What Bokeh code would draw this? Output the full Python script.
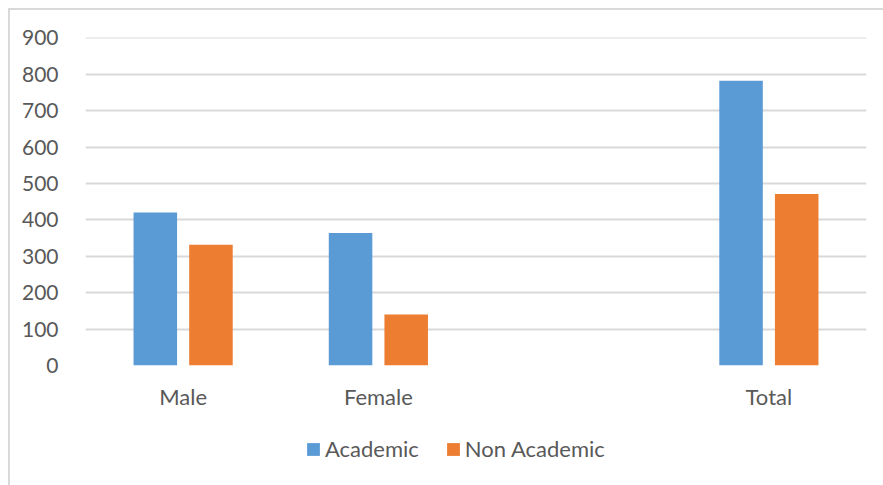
from bokeh.plotting import figure
from bokeh.models import ColumnDataSource, FactorRange, Range1d, Legend, LegendItem, SingleIntervalTicker
from bokeh.layouts import column
from bokeh.transform import dodge
from bokeh.embed import file_html
from bokeh.resources import INLINE

factors = ["Male", "Female", " ", "Total"]
categories = ["Male", "Female", "Total"]
academic = [420, 364, 782]
non_academic = [332, 140, 471]
series_names = ["Academic", "Non Academic"]
colors = ["#5B9BD5", "#ED7D31"]

font = "Lato"
tc = "#595959"

src = ColumnDataSource(dict(cat=categories, a=academic, n=non_academic))

p = figure(width=873, height=410, x_range=FactorRange(factors=factors),
           y_range=Range1d(0, 901), output_backend="svg", toolbar_location=None,
           min_border_left=75, min_border_top=27, min_border_right=17, min_border_bottom=55)

p.vbar(x=dodge("cat", -0.1425, range=p.x_range), top="a", width=0.223, source=src,
       fill_color=colors[0], line_color=None)
p.vbar(x=dodge("cat", 0.1425, range=p.x_range), top="n", width=0.223, source=src,
       fill_color=colors[1], line_color=None)

p.outline_line_color = None
p.background_fill_color = "white"
p.border_fill_color = "white"
p.xgrid.grid_line_color = None
p.ygrid.grid_line_color = "#d9d9d9"
p.ygrid.grid_line_width = 2
p.yaxis.ticker = SingleIntervalTicker(interval=100)
for ax in (p.xaxis[0], p.yaxis[0]):
    ax.axis_line_color = None
    ax.major_tick_line_color = None
    ax.minor_tick_line_color = None
    ax.major_tick_out = 0
    ax.major_tick_in = 0
    ax.major_label_text_font = font
    ax.major_label_text_color = tc
p.yaxis.major_label_text_font_size = "21px"
p.yaxis.major_label_standoff = 23
p.xaxis.major_label_text_font_size = "22px"
p.xaxis.major_label_standoff = 17

# legend strip (a second figure holding only the legend)
leg = figure(width=873, height=65, x_range=(0, 1), y_range=(0, 1),
             output_backend="svg", toolbar_location=None,
             x_axis_type=None, y_axis_type=None, min_border=0)
leg.outline_line_color = None
leg.xgrid.grid_line_color = None
leg.ygrid.grid_line_color = None
proxy = ColumnDataSource(dict(x=[-5], top=[0]))  # zero-height, outside the visible range
l1 = leg.vbar(x="x", top="top", width=0.1, source=proxy, fill_color=colors[0], line_color=None)
l2 = leg.vbar(x="x", top="top", width=0.1, source=proxy, fill_color=colors[1], line_color=None)
legend = Legend(items=[LegendItem(label=series_names[0], renderers=[l1]),
                       LegendItem(label=series_names[1], renderers=[l2])],
                orientation="horizontal", location=(220, 23),
                label_text_font=font, label_text_font_size="22px", label_text_color=tc,
                glyph_width=16, glyph_height=16, spacing=26, label_standoff=4,
                border_line_color=None, background_fill_alpha=0, margin=0, padding=0)
leg.add_layout(legend, "center")

layout = column(p, leg, spacing=0, margin=(8, 0, 0, 8),
                styles={"border-left": "2px solid #d9d9d9", "border-top": "2px solid #d9d9d9"})

open("out.html", "w").write(file_html(layout, INLINE))
